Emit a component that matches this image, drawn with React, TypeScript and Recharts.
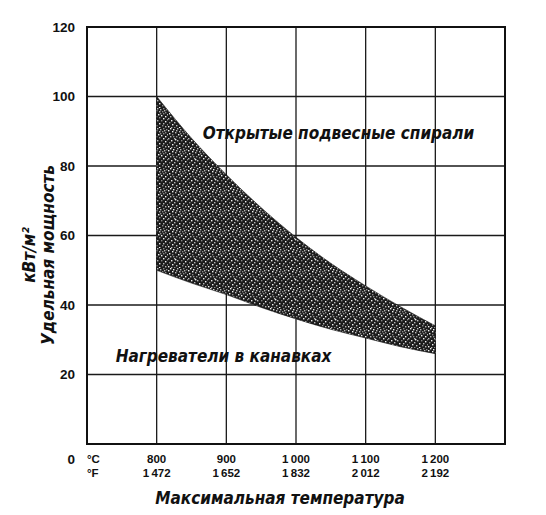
import { ComposedChart, Area, XAxis, YAxis, CartesianGrid, ReferenceArea, ReferenceDot, Customized } from 'recharts';

// Температура, °C
const temps = [800, 850, 900, 950, 1000, 1050, 1100, 1150, 1200];
// Верхняя граница (открытые подвесные спирали), кВт/м²
const upper = [100, 88, 77.5, 68, 59.5, 52, 45.5, 39.5, 34];
// Нижняя граница (нагреватели в канавках), кВт/м²
const lower = [50, 46.3, 43, 39.3, 36, 33, 30.5, 28, 26];

const xTicks = [700, 800, 900, 1000, 1100, 1200, 1300];
const yTicks = [0, 20, 40, 60, 80, 100, 120];
const celsiusLabels: Record<number, string> = {
  800: '800', 900: '900', 1000: '1\u2009000', 1100: '1\u2009100', 1200: '1\u2009200',
};
const fahrenheitLabels: Record<number, string> = {
  800: '1\u2009472', 900: '1\u2009652', 1000: '1\u2009832', 1100: '2\u2009012', 1200: '2\u2009192',
};

const data = temps.map((t, i) => ({ t, range: [lower[i], upper[i]] }));

const FONT = '"Liberation Sans", Arial, sans-serif';
const TITLE_FONT = '"DejaVu Sans Condensed", "DejaVu Sans", sans-serif';

// точки для зернистой текстуры заливки (только стиль)
const grain = [
  [2, 0], [9, 0], [15, 0], [5, 1], [12, 1], [18, 1], [0, 2], [8, 2], [14, 3], [4, 3],
  [11, 3], [17, 4], [1, 5], [7, 4], [15, 5], [10, 6], [19, 6], [4, 6], [13, 7], [2, 8],
  [8, 8], [17, 8], [6, 10], [11, 9], [15, 10], [0, 10], [19, 11], [3, 12], [9, 12], [13, 12],
  [17, 13], [6, 14], [1, 14], [11, 15], [15, 15], [19, 16], [4, 16], [8, 17], [14, 17], [0, 18],
  [17, 18], [6, 19], [11, 19], [3, 19], [12, 5], [7, 11], [16, 2], [5, 8],
];

const YTick = (props: any) => {
  const { y, payload } = props;
  const v = payload.value;
  return (
    <text x={67} y={v === 0 ? y + 15 : y} textAnchor="end" dominantBaseline="central"
      fontFamily={FONT} fontWeight="bold" fontSize={13.5} fill="#111">
      {v}
    </text>
  );
};

const XTick = (props: any) => {
  const { x, payload } = props;
  const v = payload.value;
  const top = v === 700 ? '°C' : celsiusLabels[v];
  const bottom = v === 700 ? '°F' : fahrenheitLabels[v];
  if (!top) return null;
  const anchor = v === 700 ? 'start' : 'middle';
  return (
    <g fontFamily={FONT} fontWeight="bold" fontSize={11.5} fill="#111">
      <text x={x} y={455} textAnchor={anchor}>{top}</text>
      <text x={x} y={468.5} textAnchor={anchor}>{bottom}</text>
    </g>
  );
};

const Titles = () => (
  <g fontFamily={TITLE_FONT} fontWeight="bold" fontStyle="italic" fill="#111">
    <text x={272} y={490} textAnchor="middle" dominantBaseline="central" fontSize={17}>
      Максимальная температура
    </text>
    <text transform="translate(21,247) rotate(-90)" textAnchor="middle" dominantBaseline="central" fontSize={17}>
      кВт/м²
    </text>
    <text transform="translate(40,247) rotate(-90)" textAnchor="middle" dominantBaseline="central" fontSize={17}>
      Удельная мощность
    </text>
  </g>
);

const noteStyle = { fontFamily: TITLE_FONT, fontWeight: 'bold', fontStyle: 'italic', fontSize: 17, fill: '#111' };

export default function App() {
  return (
    <ComposedChart width={538} height={507} data={data}
      margin={{ top: 19, right: 41, bottom: 41, left: 39 }}>
      <defs>
        <pattern id="speckle" width={20} height={20} patternUnits="userSpaceOnUse">
          <rect width={20} height={20} fill="#1c1c1c" />
          {grain.map(([gx, gy], i) => (
            <rect key={i} x={gx} y={gy} width={1.4} height={1.4}
              fill={i % 3 === 0 ? '#f2f2f2' : i % 3 === 1 ? '#b8b8b8' : '#8a8a8a'} />
          ))}
        </pattern>
      </defs>
      <CartesianGrid stroke="#1a1a1a" strokeWidth={1.3} />
      <XAxis dataKey="t" type="number" domain={[700, 1300]} ticks={xTicks} height={30}
        axisLine={false} tickLine={false} tick={<XTick />} interval={0} />
      <YAxis type="number" domain={[0, 120]} ticks={yTicks} width={40}
        axisLine={false} tickLine={false} tick={<YTick />} interval={0} />
      <Area type="monotone" dataKey="range" stroke="#111" strokeWidth={0.6}
        fill="url(#speckle)" fillOpacity={1} isAnimationActive={false} />
      <ReferenceArea x1={700} x2={1300} y1={0} y2={120} fill="none" stroke="#111" strokeWidth={2} ifOverflow="visible" />
      <ReferenceDot x={1061} y={89.5} r={0} stroke="none"
        label={{ value: 'Открытые подвесные спирали', position: 'center', ...noteStyle }} />
      <ReferenceDot x={896} y={25.3} r={0} stroke="none"
        label={{ value: 'Нагреватели в канавках', position: 'center', ...noteStyle }} />
      <Customized component={Titles} />
    </ComposedChart>
  );
}
